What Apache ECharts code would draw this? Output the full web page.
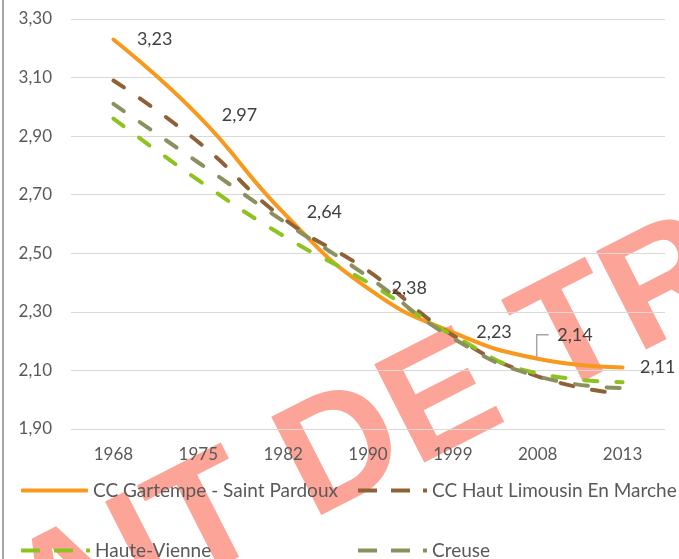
<!DOCTYPE html>
<html lang="fr">
<head>
<meta charset="UTF-8">
<title>Taille des ménages</title>
<script src="https://cdn.jsdelivr.net/npm/echarts@6/dist/echarts.min.js"></script>
<style>
  html, body { margin: 0; padding: 0; background: #fff; }
  #chart { width: 679px; height: 559px; }
</style>
</head>
<body>
<div id="chart"></div>
<script>
// années de recensement
var years = ['1968', '1975', '1982', '1990', '1999', '2008', '2013'];

// nombre moyen de personnes par ménage
var gartempe = [3.23, 2.97, 2.64, 2.38, 2.23, 2.14, 2.11];
var hautLimousin = [3.09, 2.88, 2.62, 2.44, 2.22, 2.08, 2.02];
var hauteVienne = [2.96, 2.75, 2.56, 2.40, 2.22, 2.09, 2.06];
var creuse = [3.01, 2.81, 2.61, 2.42, 2.21, 2.08, 2.04];

var names = ['CC Gartempe - Saint Pardoux', 'CC Haut Limousin En Marche', 'Haute-Vienne', 'Creuse'];
var colors = ['#F8991D', '#8F6137', '#8DC21F', '#8C8F5E'];

var font = 'Lato';
var fr = function (v) { return v.toFixed(2).replace('.', ','); };

var chart = echarts.init(document.getElementById('chart'));

// icône de légende "tiret tiret point"
var dashIcon = 'path://M0,0h19v4h-19zM33,0h19v4h-19zM65,0h4v4h-4z';

function legendAt(name, left, top, icon) {
  return {
    data: [{ name: name, icon: icon }],
    left: left, top: top,
    itemWidth: icon === 'roundRect' ? 67 : 69,
    itemHeight: 4,
    selectedMode: false,
    textStyle: { fontFamily: font, fontSize: 19, color: '#595959' }
  };
}

function dashed(name, data, color) {
  return {
    name: name, type: 'line', data: data, smooth: true,
    symbol: 'none',
    lineStyle: { color: color, width: 4, type: [13, 19], cap: 'round' },
    itemStyle: { color: color }
  };
}

// étiquettes de la série Gartempe : décalage propre à certains points
var gartempeData = gartempe.map(function (v, i) {
  if (i === 5) return { value: v, label: { position: [20, -23] } };
  if (i === 6) return { value: v, label: { position: [18, 0] } };
  return v;
});

var option = {
  animation: false,
  grid: { left: 71, right: 14, top: 19, bottom: 130 },
  xAxis: {
    type: 'category', data: years, boundaryGap: true,
    axisLine: { show: false }, axisTick: { show: false },
    axisLabel: { fontFamily: font, fontSize: 17, color: '#595959', margin: 17 }
  },
  yAxis: {
    type: 'value', min: 1.9, max: 3.3, interval: 0.2,
    axisLine: { show: false }, axisTick: { show: false },
    splitLine: { lineStyle: { color: '#D9D9D9', width: 1 } },
    axisLabel: { fontFamily: font, fontSize: 17, color: '#595959', margin: 19, formatter: fr }
  },
  legend: [
    legendAt(names[0], 16, 476, 'roundRect'),
    legendAt(names[1], 353, 476, dashIcon),
    legendAt(names[2], 16, 536, dashIcon),
    legendAt(names[3], 353, 536, dashIcon)
  ],
  graphic: [
    {
      id: 'bord', type: 'line', z: 10,
      shape: { x1: 3, y1: 0, x2: 3, y2: 559 },
      style: { stroke: '#A6A6A6', lineWidth: 2 }
    },
    {
      id: 'filigrane', type: 'text', z: -10,
      x: 371, y: 440,
      rotation: 27 * Math.PI / 180,
      style: {
        text: 'EXTRAIT DE TRAVAIL'.slice(4, 13),
        font: 'bold 160px "Liberation Sans"',
        fill: '#FBA497',
        align: 'center', verticalAlign: 'middle'
      }
    }
  ],
  series: [
    {
      name: names[0], type: 'line', smooth: true,
      data: gartempeData,
      symbol: 'circle', symbolSize: 1,
      lineStyle: { color: colors[0], width: 4, cap: 'round' },
      itemStyle: { color: colors[0] },
      label: {
        show: true, position: [24, 0], verticalAlign: 'middle',
        fontFamily: font, fontSize: 18, color: '#404040',
        formatter: function (p) { return fr(p.value); }
      }
    },
    dashed(names[1], hautLimousin, colors[1]),
    dashed(names[2], hauteVienne, colors[2]),
    dashed(names[3], creuse, colors[3])
  ]
};

chart.setOption(option);

// trait de rappel de l'étiquette 2008, accroché au point calculé par l'axe
var p = chart.convertToPixel({ xAxisIndex: 0, yAxisIndex: 0 }, [5, gartempe[5]]);
chart.setOption({
  graphic: [{
    id: 'rappel', type: 'polyline', z: 5,
    shape: { points: [[p[0] - 1, p[1] - 1], [p[0] - 1, p[1] - 24], [p[0] + 11, p[1] - 24]] },
    style: { stroke: '#A6A6A6', lineWidth: 1.5, fill: null }
  }]
});
</script>
</body>
</html>
